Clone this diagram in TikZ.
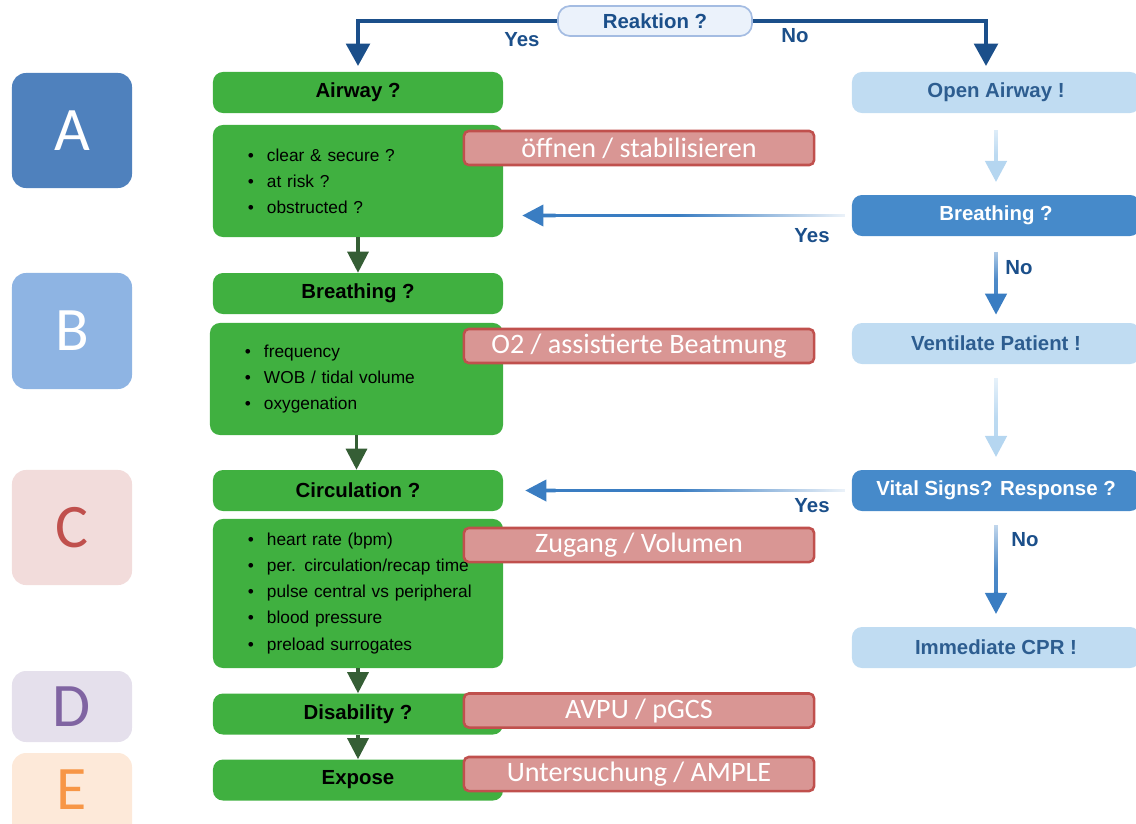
\documentclass[tikz,border=0pt]{standalone}
\usepackage{fontspec}
\setmainfont{Liberation Sans}
\newfontfamily\calfont{Carlito}
\usetikzlibrary{arrows.meta}
\usetikzlibrary{calc}
\usetikzlibrary{fadings}

\definecolor{abcgreen}{HTML}{40B040}
\definecolor{abcdark}{HTML}{355E35}
\definecolor{todofill}{HTML}{D99694}
\definecolor{todoline}{HTML}{C0504D}
\definecolor{navy}{HTML}{1B4F8A}
\definecolor{midblue}{HTML}{3A7DC2}
\definecolor{boxblue}{HTML}{468ACA}
\definecolor{paleblue}{HTML}{C0DCF2}
\definecolor{palearrow}{HTML}{B5D6F0}
\definecolor{paletext}{HTML}{2D5D90}
\definecolor{askfill}{HTML}{EBF2FB}
\definecolor{askline}{HTML}{A4BCE2}
\definecolor{letA}{HTML}{4F81BD}
\definecolor{letB}{HTML}{8EB4E3}
\definecolor{letC}{HTML}{F2DCDB}
\definecolor{letCtext}{HTML}{C0504D}
\definecolor{letD}{HTML}{E5E0EC}
\definecolor{letDtext}{HTML}{8064A2}
\definecolor{letE}{HTML}{FDE9D9}
\definecolor{letEtext}{HTML}{F79646}

\tikzfading[name=fade yes,left color=transparent!0,right color=transparent!95,middle color=transparent!0]
\tikzfading[name=fade down,top color=transparent!90,bottom color=transparent!0,middle color=transparent!10]

\newcommand{\itm}[1]{\hspace*{0.625cm}\makebox[0.475cm][l]{\textbullet}#1}

\begin{document}
\begin{tikzpicture}[x=0.025cm,y=-0.025cm,>={Triangle[width=15pt,length=15pt]},
    letter node/.style={rounded corners=0.35cm,minimum width=3cm,inner sep=0pt,font=\calfont\fontsize{44}{44}\selectfont},
    main node/.style={rounded corners=0.25cm,fill=abcgreen,minimum width=7.25cm,minimum height=1.025cm,inner sep=0pt,font=\fontsize{14.5}{17}\selectfont\bfseries},
    list node/.style={rounded corners=0.25cm,fill=abcgreen,text width=6.75cm,inner xsep=0.25cm,align=left,font=\fontsize{12.3}{18.5}\selectfont},
    todo node/.style={rounded corners=0.12cm,fill=todofill,draw=todoline,line width=1.8pt,minimum width=8.75cm,minimum height=0.85cm,inner sep=0pt,text=white,font=\calfont\fontsize{20}{22}\selectfont},
    act node/.style={rounded corners=0.25cm,fill=paleblue,text=paletext,minimum width=7.2cm,minimum height=1.025cm,inner sep=0pt,font=\fontsize{14.5}{17}\selectfont\bfseries},
    ask node/.style={act node,fill=boxblue,text=white},
    lab/.style={text=navy,font=\fontsize{14.5}{17}\selectfont\bfseries}]
  \useasboundingbox (0,0) rectangle (1136,823);
  \clip (0,0) rectangle (1136,823);

  % A B C D E
  \node[letter node,fill=letA,text=white,minimum height=2.875cm] (A) at (72,130.5) {A};
  \node[letter node,fill=letB,text=white,minimum height=2.9cm] (B) at (72,331) {B};
  \node[letter node,fill=letC,text=letCtext,minimum height=2.875cm] (C) at (72,527.5) {C};
  \node[letter node,fill=letD,text=letDtext,minimum height=1.775cm] (D) at (72,706.5) {D};
  \fill[letE,rounded corners=0.35cm] (12,753) rectangle (132,845);
  \node[letter node,text=letEtext] (E) at (72,790) {E};

  % green column
  \node[draw=askline,fill=askfill,line width=1.2pt,rounded corners=0.3cm,minimum width=4.85cm,
        minimum height=0.75cm,inner sep=0pt,text=navy,font=\fontsize{14.5}{17}\selectfont\bfseries] (react) at (655,21) {Reaktion ?};
  \node[main node] (air) at (358,92.5) {Airway ?};
  \node[list node,minimum height=2.8cm] (airL) at (358,181)
       {\itm{clear \& secure ?}\\\itm{at risk ?}\\\itm{obstructed ?}};
  \node[main node] (br) at (358,293.5) {Breathing ?};
  \node[list node,text width=6.825cm,minimum height=2.8cm] (brL) at (356.5,379)
       {\itm{frequency}\\\itm{WOB / tidal volume}\\\itm{oxygenation}};
  \node[main node] (circ) at (358,490.5) {Circulation ?};
  \node[list node,minimum height=3.725cm] (circL) at (358,593.5)
       {\itm{heart rate (bpm)}\\\itm{per. circulation/recap time}\\\itm{pulse central vs peripheral}\\\itm{blood pressure}\\\itm{preload surrogates}};
  \node[main node] (dis) at (358,714) {Disability ?};
  \node[main node] (exp) at (358,780) {Expose};

  % red boxes
  \node[todo node] (todoA) at (639,148) {öffnen / stabilisieren};
  \node[todo node] (todoB) at (639,346) {O2 / assistierte Beatmung};
  \node[todo node] (todoC) at (639,545) {Zugang / Volumen};
  \node[todo node] (todoD) at (639,710.5) {AVPU / pGCS};
  \node[todo node] (todoE) at (639,774) {Untersuchung / AMPLE};

  % right column
  \node[act node] (openA) at (996,92.5) {Open Airway !};
  \node[ask node] (brQ) at (996,215.5) {Breathing ?};
  \node[act node] (vent) at (996,343.5) {Ventilate Patient !};
  \node[ask node] (vital) at (996,490.5) {Vital Signs? Response ?};
  \node[act node] (cpr) at (996,647.5) {Immediate CPR !};

  % arrows
  \draw[navy,line width=3.5pt,->,>={Triangle[width=16.5pt,length=16pt]},shorten >=4pt]
       (react.west) -| (air.north);
  \draw[navy,line width=3.5pt,->,>={Triangle[width=16.5pt,length=16pt]},shorten >=4pt]
       (react.east) -| ($(openA.north)+(-10,0)$);
  \draw[abcdark,line width=2.2pt,->] (airL.south) -- (br.north);
  \draw[abcdark,line width=2.2pt,->] (brL.south) -- (brL.south |- circ.north);
  \draw[abcdark,line width=2.2pt,->] (circL.south) -- (dis.north);
  \draw[abcdark,line width=2.2pt,->] (dis.south) -- (exp.north);

  % faded shafts, then solid tips
  \draw[palearrow,line width=3pt,path fading=fade down,shorten <=12pt,shorten >=18pt] (openA.south) -- (brQ.north);
  \draw[palearrow,line width=3pt,->,shorten >=9pt] ($(brQ.north)!0.4!(openA.south)$) -- (brQ.north);
  \draw[midblue,line width=3pt,path fading=fade down,shorten <=11pt,shorten >=16pt] (brQ.south) -- (vent.north);
  \draw[midblue,line width=3pt,->,shorten >=5.7pt] ($(vent.north)!0.3!(brQ.south)$) -- (vent.north);
  \draw[palearrow,line width=3pt,path fading=fade down,shorten <=10pt,shorten >=18pt] (vent.south) -- (vital.north);
  \draw[palearrow,line width=3pt,->,shorten >=9pt] ($(vital.north)!0.3!(vent.south)$) -- (vital.north);
  \draw[midblue,line width=3pt,path fading=fade down,shorten <=10pt,shorten >=18pt] (vital.south) -- (cpr.north);
  \draw[midblue,line width=3pt,->,shorten >=9pt] ($(cpr.north)!0.3!(vital.south)$) -- (cpr.north);
  \draw[midblue,line width=2.6pt,path fading=fade yes,shorten <=5pt,shorten >=24pt] (brQ.west) -- (airL.east |- brQ.west);
  \draw[midblue,line width=2.6pt,->,shorten >=13.5pt] ($(airL.east |- brQ.west)!0.15!(brQ.west)$) -- (airL.east |- brQ.west);
  \draw[midblue,line width=2.6pt,path fading=fade yes,shorten <=5pt,shorten >=26pt] (vital.west) -- (circ.east);
  \draw[midblue,line width=2.6pt,->,shorten >=15.6pt] ($(circ.east)!0.15!(vital.west)$) -- (circ.east);

  % labels
  \node[lab] (yesR) at (522,40) {Yes};
  \node[lab] (noR) at (795,36) {No};
  \node[lab] (yesB) at (812,236) {Yes};
  \node[lab] (noB) at (1019,268) {No};
  \node[lab] (yesV) at (812,506) {Yes};
  \node[lab] (noV) at (1025,540) {No};
\end{tikzpicture}
\end{document}
